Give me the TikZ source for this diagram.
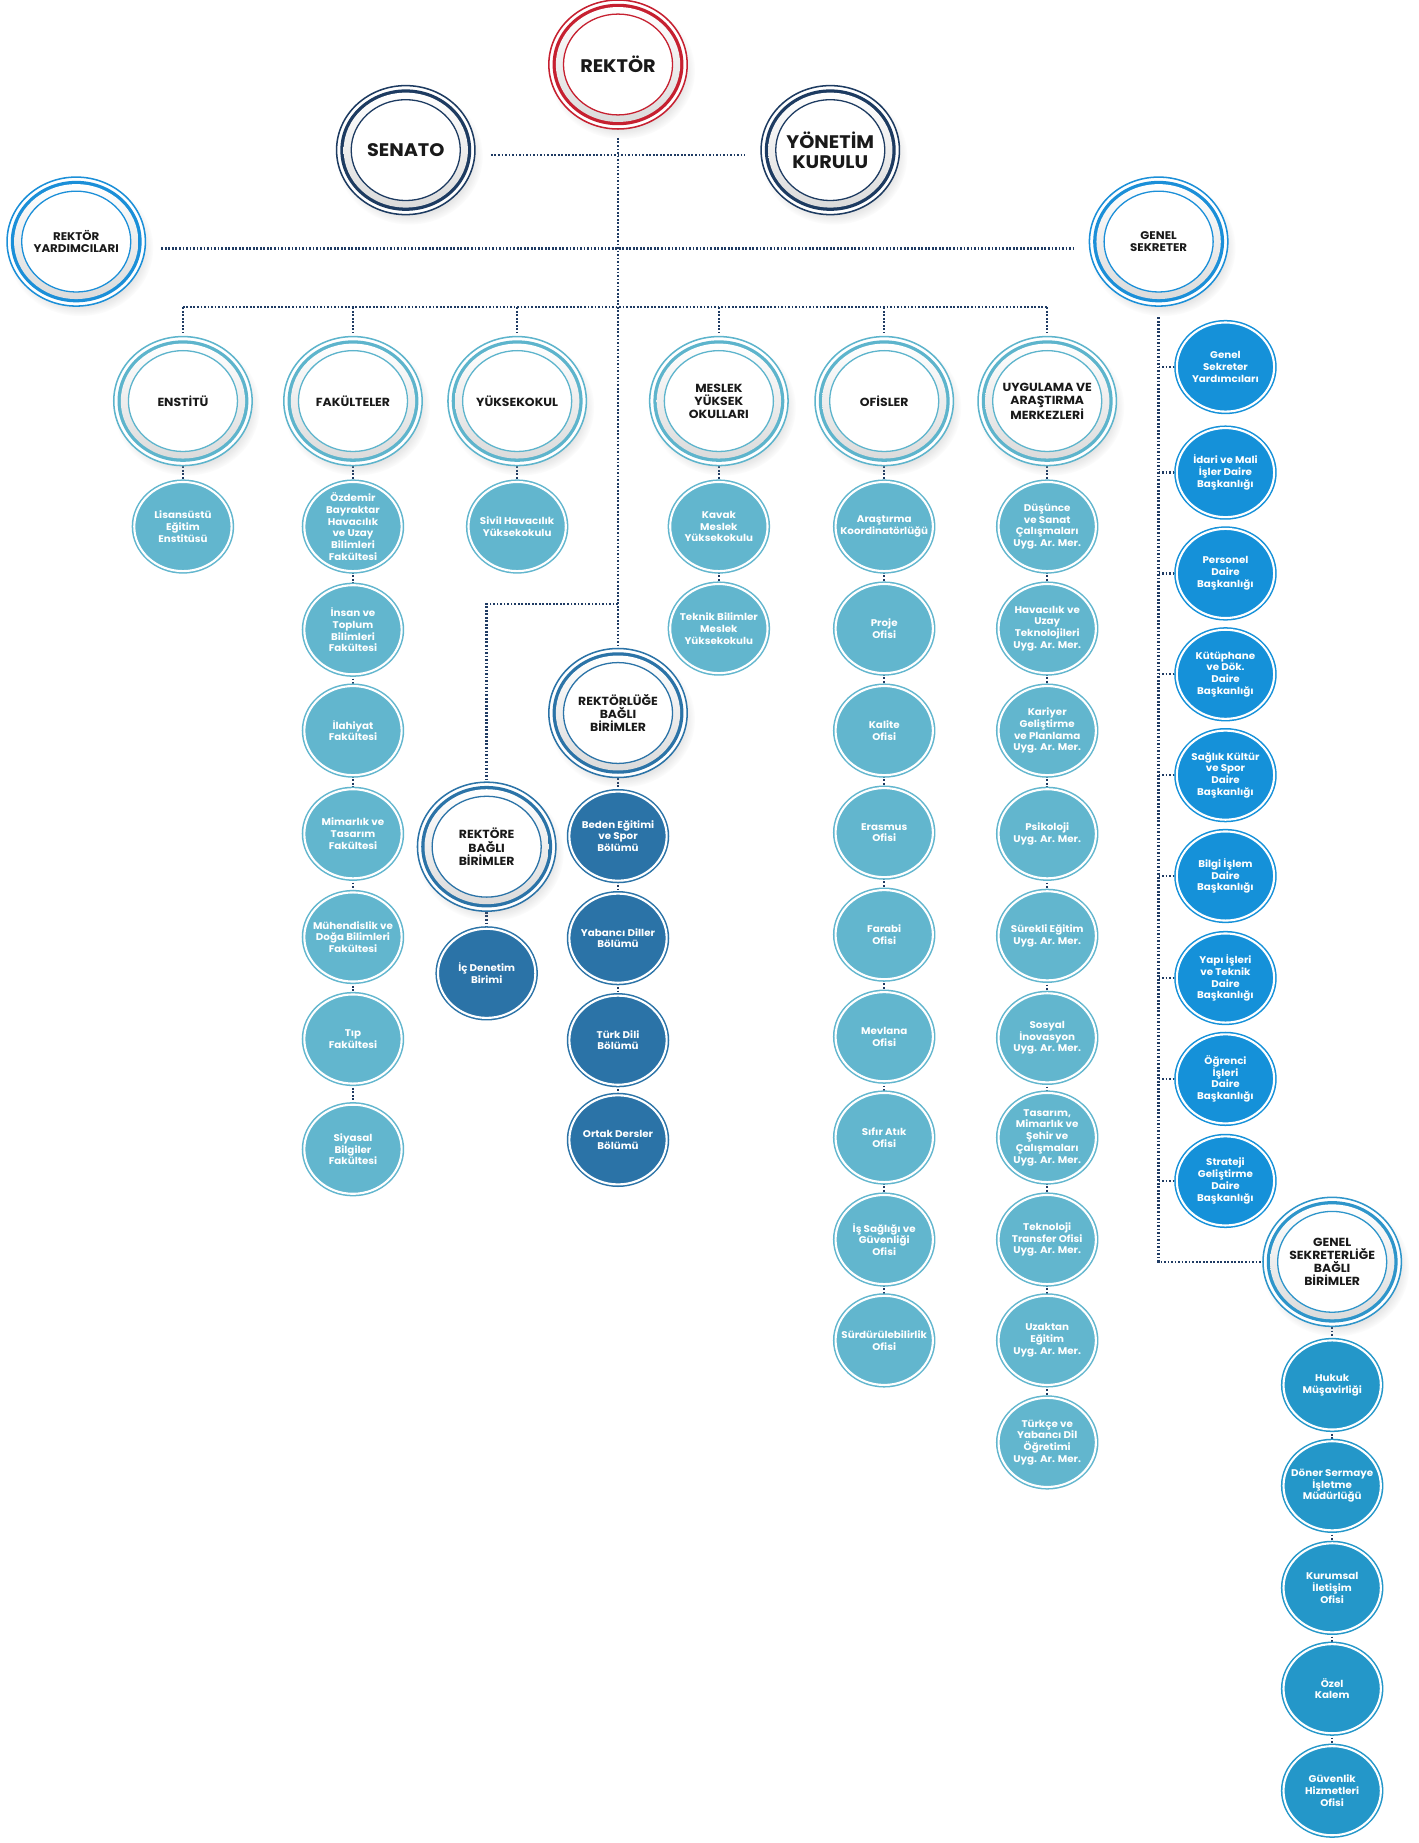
\documentclass[tikz,border=0pt]{standalone}
\usepackage{fontspec}
\setmainfont{Poppins}[FakeStretch=1.06]
\usetikzlibrary{shapes.geometric,shadows,fadings,backgrounds}
\definecolor{cRed}{HTML}{C62030}
\definecolor{cNavy}{HTML}{1D3B61}
\definecolor{cBright}{HTML}{1B8FD8}
\definecolor{cTeal}{HTML}{5DB4CC}
\definecolor{cTealFill}{HTML}{62B6CE}
\definecolor{cSteel}{HTML}{2B73A7}
\definecolor{cGS}{HTML}{1591D9}
\definecolor{cGSB}{HTML}{2E95CA}
\definecolor{cGSBFill}{HTML}{2497C9}
\definecolor{cLine}{HTML}{1F3B63}
\newcommand\fL{\bfseries\fontsize{15.5}{17}\selectfont}
\newcommand\fM{\bfseries\fontsize{10}{11.2}\selectfont}
\newcommand\fS{\bfseries\fontsize{9.5}{10.8}\selectfont}
\newcommand\chf{\bfseries\fontsize{8.3}{10}\selectfont}
\tikzset{
  hd/.style={ellipse, minimum width=118pt, minimum height=110pt, inner sep=-14pt,
    align=center, fill=white, draw=#1, line width=1.3pt, text=black!90,
    circular drop shadow={shadow xshift=3pt, shadow yshift=-5pt, shadow scale=1.06, opacity=.22, fill=black!45},
    path picture={
      \path (path picture bounding box.center) coordinate (pp);
      \fill[#1] (pp) ellipse [x radius=55.8pt, y radius=51.8pt];
      \shade[top color=white, bottom color=black!14] (pp) ellipse [x radius=53pt, y radius=49pt];
      \fill[white] (pp) ellipse [x radius=46.5pt, y radius=43pt];
      \draw[#1, line width=1.1pt] (pp) ellipse [x radius=46.5pt, y radius=43pt];
    }},
  ch/.style={ellipse, minimum width=83pt, minimum height=76pt, inner sep=-14pt,
    align=center, fill=#1, draw=#1, double=white, double distance=1.8pt,
    line width=1.3pt, text=white, font=\chf},
  conn/.style={draw=cLine, line width=2pt, dash pattern=on 1.5pt off 1.5pt}
}
\begin{document}
\begin{tikzpicture}[x=1pt,y=-1pt]
\useasboundingbox (0,0) rectangle (1210,1571.6);
% top level
\node[hd=cRed, font=\fL] (rektor) at (527,55) {REKTÖR};
\node[hd=cNavy, font=\fL] (senato) at (346,128) {SENATO};
\node[hd=cNavy, font=\fL] (yk) at (708,128) {YÖNETİM\\KURULU};
\node[hd=cBright, font=\fS] (ry) at (65,206) {REKTÖR\\YARDIMCILARI};
\node[hd=cBright, font=\fS] (gs) at (988,206) {GENEL\\SEKRETER};
% second level
\node[hd=cTeal, font=\fM] (enst) at (156,342) {ENSTİTÜ};
\node[hd=cTeal, font=\fM] (fak) at (301,342) {FAKÜLTELER};
\node[hd=cTeal, font=\fM] (yo) at (441,342) {YÜKSEKOKUL};
\node[hd=cTeal, font=\fM] (myo) at (613,342) {MESLEK\\YÜKSEK\\OKULLARI};
\node[hd=cTeal, font=\fM] (ofis) at (754,342) {OFİSLER};
\node[hd=cTeal, font=\fM] (uam) at (893,342) {UYGULAMA VE\\ARAŞTIRMA\\MERKEZLERİ};
\node[hd=cSteel, font=\fM] (rlb) at (527,608) {REKTÖRLÜĞE\\BAĞLI\\BİRİMLER};
\node[hd=cSteel, font=\fM] (rb) at (415,722) {REKTÖRE\\BAĞLI\\BİRİMLER};
\node[hd=cGSB, font=\fM] (gsb) at (1136,1076) {GENEL\\SEKRETERLİĞE\\BAĞLI\\BİRİMLER};
% enstitu
\node[ch=cTealFill] (e1) at (156,449) {Lisansüstü\\Eğitim\\Enstitüsü};
% fakulteler
\node[ch=cTealFill] (f1) at (301,449) {Özdemir\\Bayraktar\\Havacılık\\ve Uzay\\Bilimleri\\Fakültesi};
\node[ch=cTealFill] (f2) at (301,537) {İnsan ve\\Toplum\\Bilimleri\\Fakültesi};
\node[ch=cTealFill] (f3) at (301,623) {İlahiyat\\Fakültesi};
\node[ch=cTealFill] (f4) at (301,711) {Mimarlık ve\\Tasarım\\Fakültesi};
\node[ch=cTealFill] (f5) at (301,799) {Mühendislik ve\\Doğa Bilimleri\\Fakültesi};
\node[ch=cTealFill] (f6) at (301,886) {Tıp\\Fakültesi};
\node[ch=cTealFill] (f7) at (301,980) {Siyasal\\Bilgiler\\Fakültesi};
% yuksekokul
\node[ch=cTealFill] (y1) at (441,449) {Sivil Havacılık\\Yüksekokulu};
% myo
\node[ch=cTealFill] (m1) at (613,449) {Kavak\\Meslek\\Yüksekokulu};
\node[ch=cTealFill] (m2) at (613,536) {Teknik Bilimler\\Meslek\\Yüksekokulu};
% ofisler
\node[ch=cTealFill] (o1) at (754,449) {Araştırma\\Koordinatörlüğü};
\node[ch=cTealFill] (o2) at (754,536) {Proje\\Ofisi};
\node[ch=cTealFill] (o3) at (754,623) {Kalite\\Ofisi};
\node[ch=cTealFill] (o4) at (754,710) {Erasmus\\Ofisi};
\node[ch=cTealFill] (o5) at (754,797) {Farabi\\Ofisi};
\node[ch=cTealFill] (o6) at (754,884) {Mevlana\\Ofisi};
\node[ch=cTealFill] (o7) at (754,970) {Sıfır Atık\\Ofisi};
\node[ch=cTealFill] (o8) at (754,1057) {İş Sağlığı ve\\Güvenliği\\Ofisi};
\node[ch=cTealFill] (o9) at (754,1143) {Sürdürülebilirlik\\Ofisi};
% uygulama
\node[ch=cTealFill] (u1) at (893,449) {Düşünce\\ve Sanat\\Çalışmaları\\Uyg. Ar. Mer.};
\node[ch=cTealFill] (u2) at (893,536) {Havacılık ve\\Uzay\\Teknolojileri\\Uyg. Ar. Mer.};
\node[ch=cTealFill] (u3) at (893,623) {Kariyer\\Geliştirme\\ve Planlama\\Uyg. Ar. Mer.};
\node[ch=cTealFill] (u4) at (893,711) {Psikoloji\\Uyg. Ar. Mer.};
\node[ch=cTealFill] (u5) at (893,798) {Sürekli Eğitim\\Uyg. Ar. Mer.};
\node[ch=cTealFill] (u6) at (893,885) {Sosyal\\İnovasyon\\Uyg. Ar. Mer.};
\node[ch=cTealFill] (u7) at (893,970) {Tasarım,\\Mimarlık ve\\Şehir ve\\Çalışmaları\\Uyg. Ar. Mer.};
\node[ch=cTealFill] (u8) at (893,1057) {Teknoloji\\Transfer Ofisi\\Uyg. Ar. Mer.};
\node[ch=cTealFill] (u9) at (893,1143) {Uzaktan\\Eğitim\\Uyg. Ar. Mer.};
\node[ch=cTealFill] (u10) at (893,1230) {Türkçe ve\\Yabancı Dil\\Öğretimi\\Uyg. Ar. Mer.};
% rektorluge bagli
\node[ch=cSteel] (r1) at (527,713) {Beden Eğitimi\\ve Spor\\Bölümü};
\node[ch=cSteel] (r2) at (527,800) {Yabancı Diller\\Bölümü};
\node[ch=cSteel] (r3) at (527,887) {Türk Dili\\Bölümü};
\node[ch=cSteel] (r4) at (527,972) {Ortak Dersler\\Bölümü};
% rektore bagli
\node[ch=cSteel] (b1) at (415,830) {İç Denetim\\Birimi};
% genel sekreter
\node[ch=cGS] (g1) at (1045,313) {Genel\\Sekreter\\Yardımcıları};
\node[ch=cGS] (g2) at (1045,403) {İdari ve Mali\\İşler Daire\\Başkanlığı};
\node[ch=cGS] (g3) at (1045,489) {Personel\\Daire\\Başkanlığı};
\node[ch=cGS] (g4) at (1045,575) {Kütüphane\\ve Dök.\\Daire\\Başkanlığı};
\node[ch=cGS] (g5) at (1045,661) {Sağlık Kültür\\ve Spor\\Daire\\Başkanlığı};
\node[ch=cGS] (g6) at (1045,747) {Bilgi İşlem\\Daire\\Başkanlığı};
\node[ch=cGS] (g7) at (1045,834) {Yapı İşleri\\ve Teknik\\Daire\\Başkanlığı};
\node[ch=cGS] (g8) at (1045,920) {Öğrenci\\İşleri\\Daire\\Başkanlığı};
\node[ch=cGS] (g9) at (1045,1007) {Strateji\\Geliştirme\\Daire\\Başkanlığı};
% genel sekreterlige bagli
\node[ch=cGSBFill] (h1) at (1136,1181) {Hukuk\\Müşavirliği};
\node[ch=cGSBFill] (h2) at (1136,1267) {Döner Sermaye\\İşletme\\Müdürlüğü};
\node[ch=cGSBFill] (h3) at (1136,1354) {Kurumsal\\İletişim\\Ofisi};
\node[ch=cGSBFill] (h4) at (1136,1440) {Özel\\Kalem};
\node[ch=cGSBFill] (h5) at (1136,1527) {Güvenlik\\Hizmetleri\\Ofisi};
% connectors
\coordinate (busL) at (156,262);
\coordinate (busR) at (893,262);
\coordinate (j1) at (527,515);
\begin{scope}[on background layer]
\fill[white] (0,0) rectangle (1210,1571.6);
\draw[conn, shorten <=7pt] (rektor) -- (rlb);
\draw[conn] ([shift={(13pt,-4pt)}]senato.east) -- ([shift={(-13pt,-4pt)}]yk.west);
\draw[conn] ([shift={(13pt,-6pt)}]ry.east) -- ([shift={(-13pt,-6pt)}]gs.west);
\draw[conn] (busL) -- (busR);
\foreach \n in {enst,fak,yo,myo,ofis,uam}
  \draw[conn] (\n.north |- busL) -- ([yshift=3pt]\n.north);
\draw[conn] (j1) -| (rb.north);
\draw[conn] (enst) -- (e1);
\draw[conn] (fak) -- (f1);
\foreach \a/\b in {f1/f2,f2/f3,f3/f4,f4/f5,f5/f6,f6/f7} \draw[conn] (\a) -- (\b);
\draw[conn] (yo) -- (y1);
\draw[conn] (myo) -- (m1); \draw[conn] (m1) -- (m2);
\draw[conn] (ofis) -- (o1);
\foreach \a/\b in {o1/o2,o2/o3,o3/o4,o4/o5,o5/o6,o6/o7,o7/o8,o8/o9} \draw[conn] (\a) -- (\b);
\draw[conn] (uam) -- (u1);
\foreach \a/\b in {u1/u2,u2/u3,u3/u4,u4/u5,u5/u6,u6/u7,u7/u8,u8/u9,u9/u10} \draw[conn] (\a) -- (\b);
\draw[conn] (rlb) -- (r1);
\foreach \a/\b in {r1/r2,r2/r3,r3/r4} \draw[conn] (\a) -- (\b);
\draw[conn] (rb) -- (b1);
\draw[conn] ([yshift=-9pt]gs.south) |- (gsb.west);
\foreach \i in {1,...,9} \draw[conn] (gs.south |- g\i) -- (g\i.west);
\draw[conn] (gsb) -- (h1);
\foreach \a/\b in {h1/h2,h2/h3,h3/h4,h4/h5} \draw[conn] (\a) -- (\b);
\end{scope}
\end{tikzpicture}
\end{document}
